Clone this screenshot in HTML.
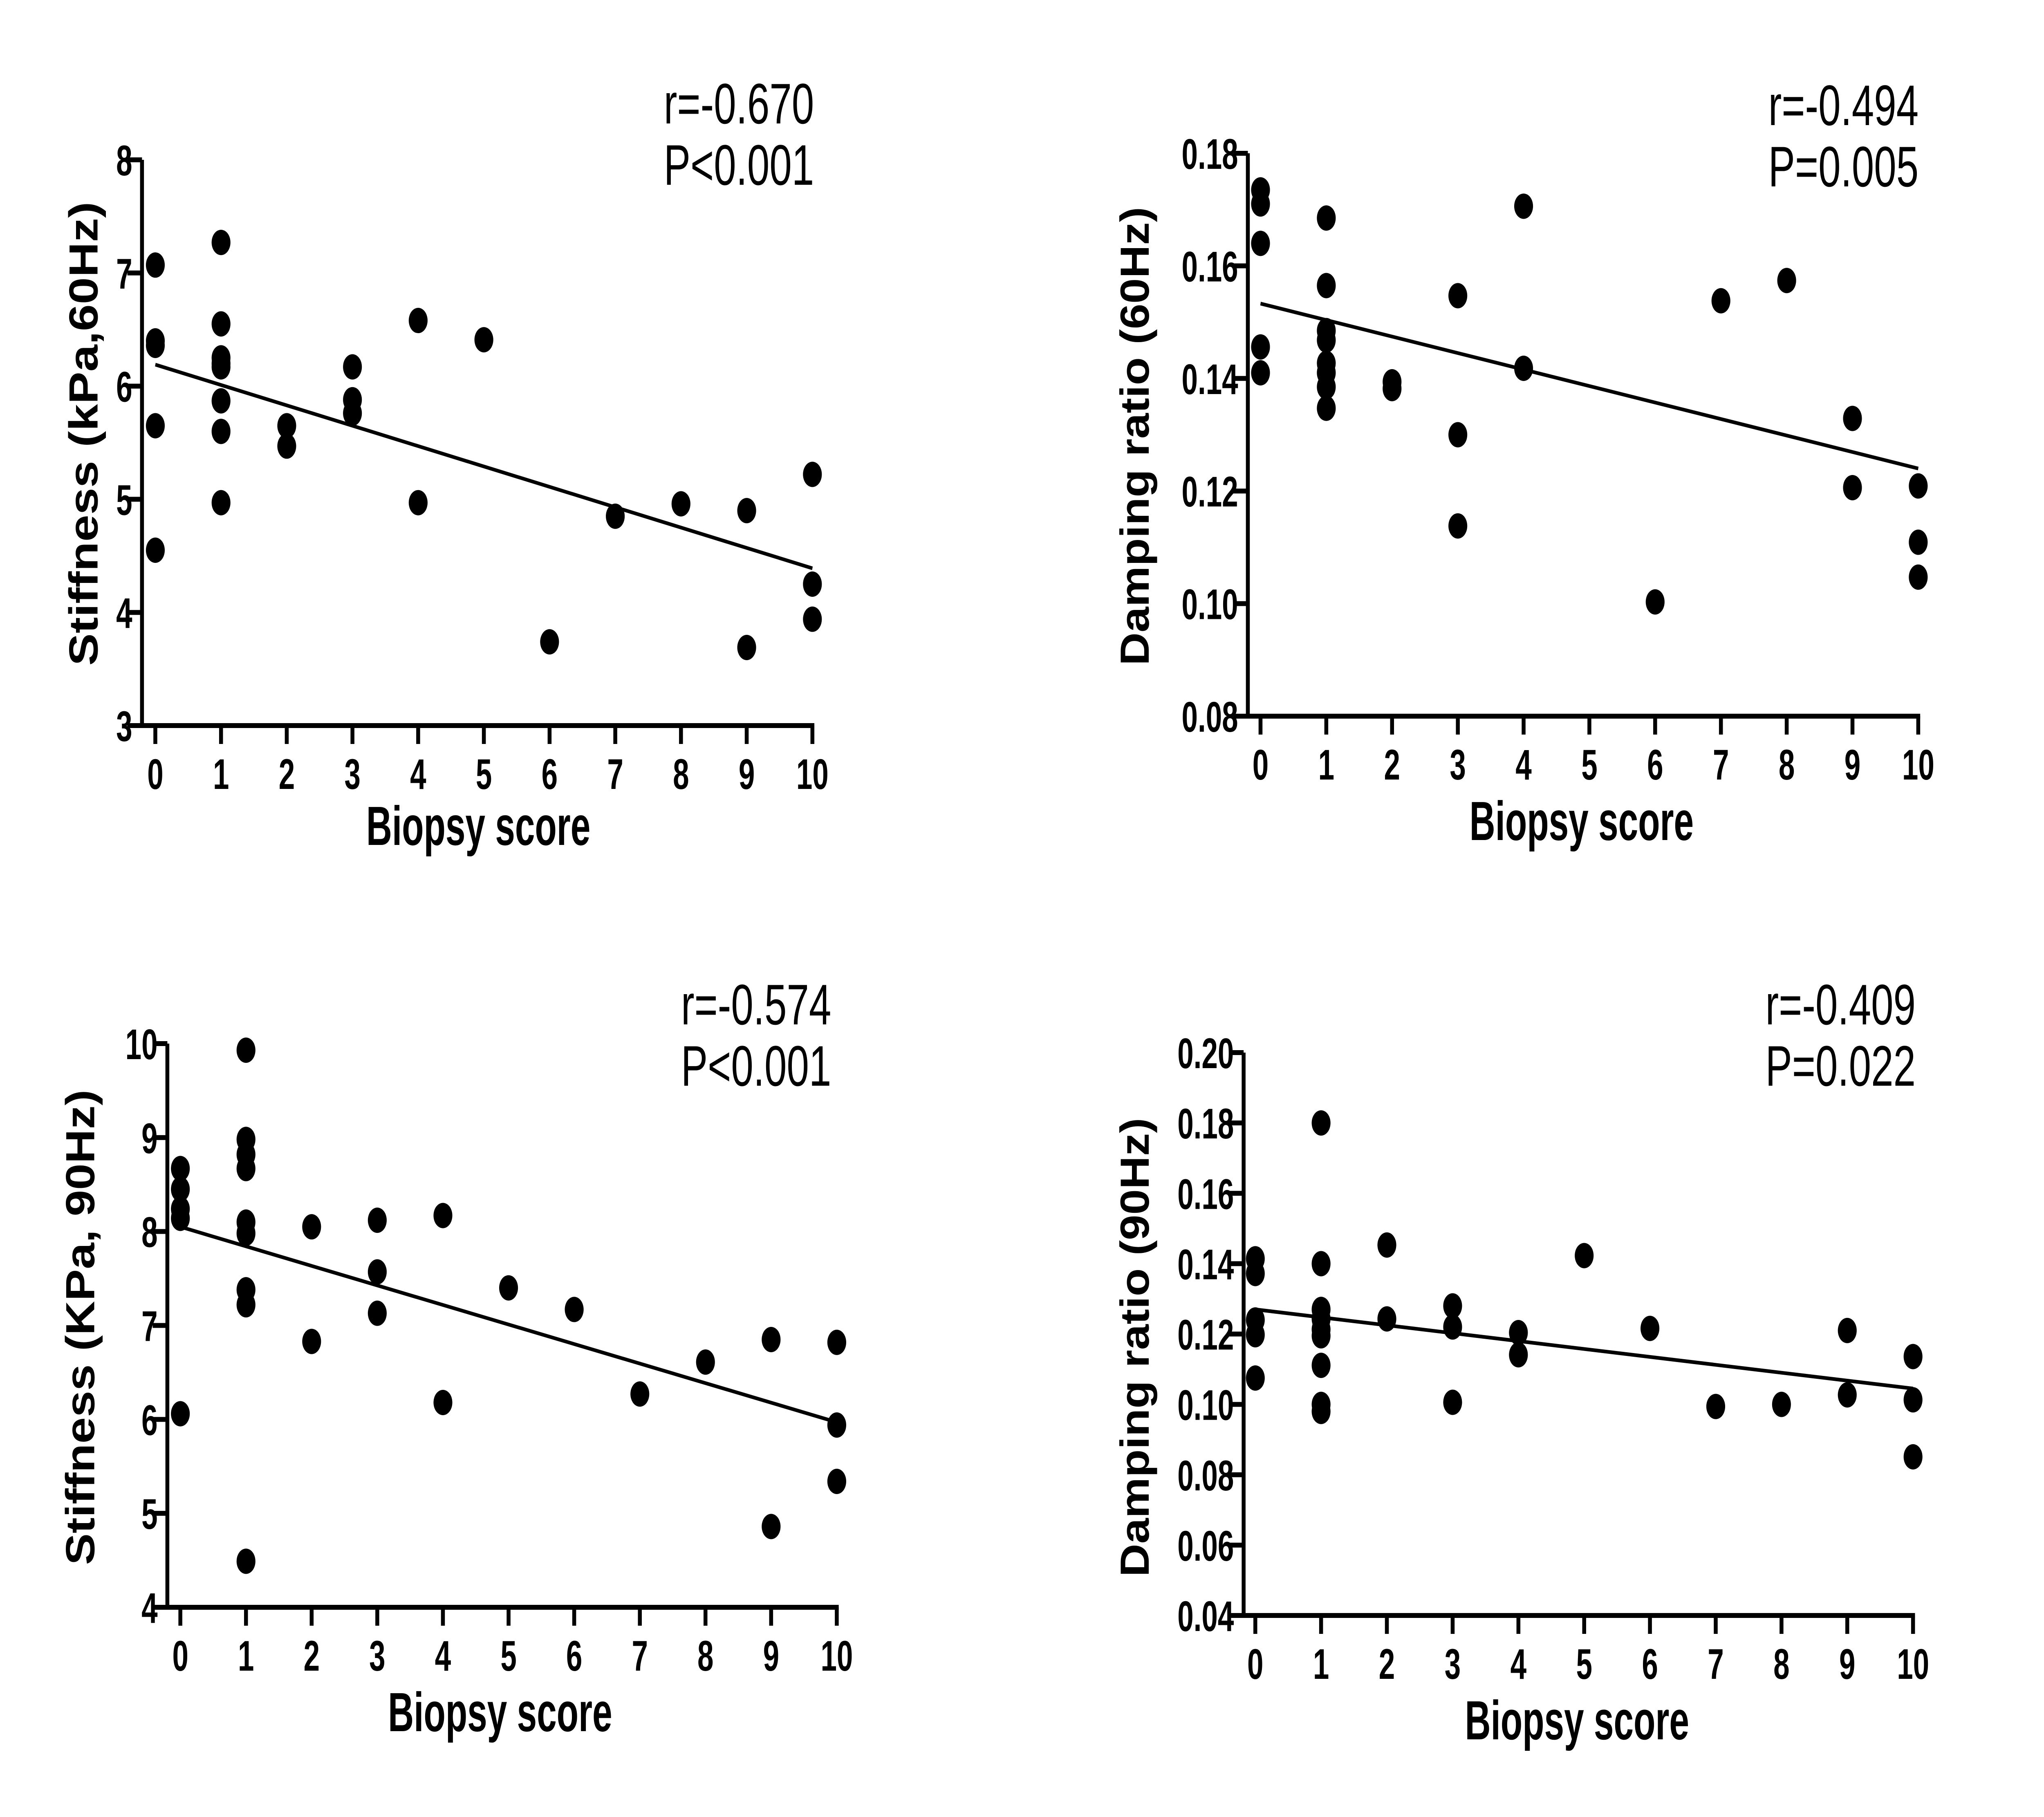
<!DOCTYPE html>
<html><head><meta charset="utf-8"><style>
html,body{margin:0;padding:0;background:#fff;overflow:hidden;width:100%;height:100%;}
svg{display:block;width:100vw;height:100vh;}
text{font-family:"Liberation Sans",sans-serif;fill:#000;}
</style></head><body>
<svg id="fig" viewBox="0 0 6290 4445" preserveAspectRatio="none" xmlns="http://www.w3.org/2000/svg">
<rect width="6290" height="4445" fill="#fff"/>
</svg>
<script>
// Panel A: Stiffness 60Hz
const p1x = [0,0,0,0,0, 1,1,1,1,1,1,1,1, 2,2, 3,3,3, 4,4, 5, 6, 7, 8, 9,9, 10,10,10];
const p1y = [7.07,6.40,6.36,5.65,4.55, 7.27,6.55,6.25,6.20,6.17,5.87,5.60,4.97, 5.65,5.47, 6.17,5.88,5.76, 6.58,4.97, 6.41, 3.74, 4.85, 4.96, 4.90,3.69, 5.22,4.25,3.94];
const p1line = [6.19, 4.39];
const p1ticks = ["3","4","5","6","7","8"];
// Panel B: Damping 60Hz
const p2x = [0,0,0,0,0, 1,1,1,1,1,1,1,1, 2,2, 3,3,3, 4,4, 6, 7, 8, 9,9, 10,10,10];
const p2y = [0.1735,0.171,0.164,0.1456,0.141, 0.1685,0.1565,0.1485,0.1468,0.1427,0.141,0.1385,0.1347, 0.1394,0.1382, 0.1547,0.130,0.1138, 0.1706,0.1418, 0.1003, 0.1538, 0.1574, 0.1329,0.1206, 0.1209,0.1109,0.1047];
const p2line = [0.1533, 0.124];
const p2ticks = ["0.08","0.10","0.12","0.14","0.16","0.18"];
// Panel C: Stiffness 90Hz
const p3x = [0,0,0,0,0, 1,1,1,1,1,1,1,1,1, 2,2, 3,3,3, 4,4, 5, 6, 7, 8, 9,9, 10,10,10];
const p3y = [8.67,8.45,8.24,8.14,6.06, 9.93,8.98,8.82,8.67,8.10,7.98,7.38,7.22,4.49, 8.05,6.83, 8.12,7.57,7.13, 8.17,6.18, 7.40, 7.17, 6.27, 6.61, 6.85,4.86, 6.82,5.94,5.34];
const p3line = [8.05, 5.97];
const p3ticks = ["4","5","6","7","8","9","10"];
// Panel D: Damping 90Hz
const p4x = [0,0,0,0,0, 1,1,1,1,1,1,1,1,1, 2,2, 3,3,3, 4,4, 5, 6, 7, 8, 9,9, 10,10,10];
const p4y = [0.1414,0.1372,0.124,0.1198,0.1075, 0.180,0.140,0.127,0.1243,0.1213,0.1195,0.1111,0.100,0.098, 0.1453,0.1243, 0.128,0.122,0.1006, 0.1204,0.1141, 0.1423, 0.1216, 0.0994, 0.100, 0.121,0.1027, 0.1136,0.1013,0.0851];
const p4line = [0.127, 0.1045];
const p4ticks = ["0.04","0.06","0.08","0.10","0.12","0.14","0.16","0.18","0.20"];
const xTicks = ["0","1","2","3","4","5","6","7","8","9","10"];

const NS = "http://www.w3.org/2000/svg";
const svg = document.getElementById("fig");
function mk(tag, attrs, parent){
  const e = document.createElementNS(NS, tag);
  for (const k in attrs) e.setAttribute(k, attrs[k]);
  (parent||svg).appendChild(e);
  return e;
}
function panel(cfg){
  const g = mk("g", {});
  
  
  const ymin = parseFloat(cfg.ticks[0]), ymax = parseFloat(cfg.ticks[cfg.ticks.length-1]);
  const sx = v => cfg.x0 + (cfg.x10 - cfg.x0) * v / 10;
  const sy = v => cfg.yb - (cfg.yb - cfg.yt) * (v - ymin) / (ymax - ymin);
  const ya = mk("line", {x1:cfg.ax, y1:cfg.yt, x2:cfg.ax, y2:cfg.yb, stroke:"#000","stroke-width":12}, g);
  
  
  const xa = mk("line", {x1:cfg.ax-6, y1:cfg.yb, x2:cfg.x10+6, y2:cfg.yb, stroke:"#000","stroke-width":12}, g);
  
  
  cfg.ticks.forEach(t => {
    const y = sy(parseFloat(t));
    mk("line", {x1:cfg.ax-45, y1:y, x2:cfg.ax, y2:y, stroke:"#000","stroke-width":12}, g);
    const tx = mk("text", {transform:`translate(${cfg.ax-30},${y+38}) scale(0.85,1)`, "text-anchor":"end","font-size":105,"font-weight":"bold"}, g);
    tx.textContent = t;
    
    
  });
  xTicks.forEach((t,i) => {
    const x = sx(i);
    mk("line", {x1:x, y1:cfg.yb, x2:x, y2:cfg.yb+45, stroke:"#000","stroke-width":12}, g);
    const tx = mk("text", {transform:`translate(${x},${cfg.yb+155}) scale(0.85,1)`, "text-anchor":"middle","font-size":105,"font-weight":"bold"}, g);
    tx.textContent = t;
    
    
  });
  cfg.xs.forEach((xv,i) => {
    const c = mk("ellipse", {cx:sx(xv), cy:sy(cfg.ys[i]), rx:29, ry:31, fill:"#000"}, g);
    
    
  });
  const ln = mk("line", {x1:sx(0), y1:sy(cfg.line[0]), x2:sx(10), y2:sy(cfg.line[1]), stroke:"#000","stroke-width":9}, g);
  
  
  const yt = mk("text", {transform:`translate(${cfg.ytx},${cfg.yty}) rotate(-90)`, "text-anchor":"middle","font-size":125,"font-weight":"bold", textLength:cfg.ytl, lengthAdjust:"spacingAndGlyphs"}, g);
  yt.textContent = cfg.ytitle;
  
  
  const xt = mk("text", {x:cfg.xtx, y:cfg.xty, "font-size":135,"font-weight":"bold", textLength:690, lengthAdjust:"spacingAndGlyphs"}, g);
  xt.textContent = "Biopsy score";
  
  
  const r = mk("text", {transform:`translate(${cfg.sr},${cfg.sb}) scale(0.88,1)`, "text-anchor":"end","font-size":140}, g);
  r.textContent = cfg.r;
  
  
  const p = mk("text", {transform:`translate(${cfg.sr},${cfg.sb+150}) scale(0.88,1)`, "text-anchor":"end","font-size":140}, g);
  p.textContent = cfg.p;
  
  
}
panel({name:"panel-stiffness-60hz", xs:p1x, ys:p1y, line:p1line, ticks:p1ticks, ax:437, yt:391, yb:1775, x0:478, x10:2500,
  ytitle:"Stiffness (kPa,60Hz)", ytx:300, yty:1061, ytl:1135, xtx:1127, xty:2067, sr:2505, sb:302, r:"r=-0.670", p:"P<0.001"});
panel({name:"panel-damping-60hz", xs:p2x, ys:p2y, line:p2line, ticks:p2ticks, ax:3840, yt:375, yb:1752, x0:3879, x10:5903,
  ytitle:"Damping ratio (60Hz)", ytx:3535, yty:1067, ytl:1122, xtx:4522, xty:2055, sr:5904, sb:306, r:"r=-0.494", p:"P=0.005"});
panel({name:"panel-stiffness-90hz", xs:p3x, ys:p3y, line:p3line, ticks:p3ticks, ax:515, yt:2553, yb:3932, x0:555, x10:2575,
  ytitle:"Stiffness (KPa, 90Hz)", ytx:290, yty:3247, ytl:1163, xtx:1194, xty:4235, sr:2558, sb:2506, r:"r=-0.574", p:"P<0.001"});
panel({name:"panel-damping-90hz", xs:p4x, ys:p4y, line:p4line, ticks:p4ticks, ax:3827, yt:2575, yb:3952, x0:3863, x10:5887,
  ytitle:"Damping ratio (90Hz)", ytx:3535, yty:3296, ytl:1123, xtx:4508, xty:4255, sr:5895, sb:2506, r:"r=-0.409", p:"P=0.022"});
</script>
</body></html>
